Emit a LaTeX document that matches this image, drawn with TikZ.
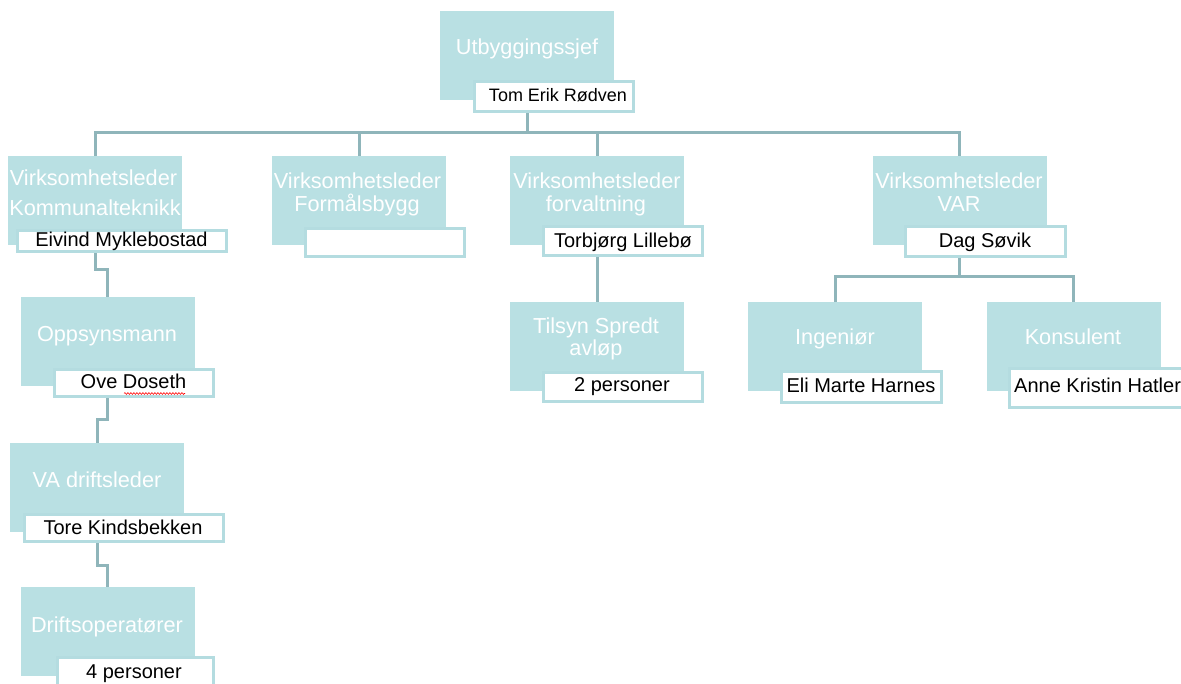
\documentclass[tikz,border=0pt]{standalone}
\usepackage{fontspec}
\setmainfont{Liberation Sans}
\usetikzlibrary{backgrounds,decorations.pathmorphing}
\definecolor{boxfill}{RGB}{185,224,227}
\definecolor{conncol}{RGB}{143,181,186}
\definecolor{nameline}{RGB}{180,220,224}
\tikzset{
  rolebox/.style={fill=boxfill, draw=none, inner sep=0pt, outer sep=0pt, minimum width=174pt, minimum height=89pt},
  namebox/.style={fill=white, draw=nameline, line width=3pt, inner sep=0pt, outer sep=0pt},
  conn/.style={draw=conncol, line width=3pt},
  titletxt/.style={text=white, font=\fontsize{21.7}{26}\selectfont, anchor=base, inner sep=0pt},
  nametxt/.style={text=black, font=\fontsize{20}{24}\selectfont, anchor=base, inner sep=0pt},
}
\begin{document}
\begin{tikzpicture}[x=1pt,y=-1pt]
\useasboundingbox (0,0) rectangle (1181,684);
\clip (0,0) rectangle (1181,684);
\coordinate (bus) at (0,133);
% role boxes
\node[rolebox] (r0) at (527,56) {};
\node[rolebox] (rk) at (95,200.5) {};
\node[rolebox] (rf) at (359,200.5) {};
\node[rolebox] (rfv) at (597,200.5) {};
\node[rolebox] (rvar) at (959.5,200.5) {};
\node[rolebox] (rti) at (597,346.5) {};
\node[rolebox] (ring) at (835,346.5) {};
\node[rolebox] (rkon) at (1073.5,346.5) {};
\node[rolebox] (ro) at (107.5,341.5) {};
\node[rolebox] (rva) at (97,487.5) {};
\node[rolebox] (rd) at (107.5,631.5) {};
% name boxes
\node[namebox, minimum width=159pt, minimum height=30pt] (n0) at (554,96.5) {};
\node[namebox, minimum width=209pt, minimum height=21pt] (nk) at (122,241) {};
\node[namebox, minimum width=159pt, minimum height=28pt] (nf) at (385,242.5) {};
\node[namebox, minimum width=159pt, minimum height=29pt] (nfv) at (623,241) {};
\node[namebox, minimum width=160pt, minimum height=30pt] (nvar) at (985.5,241.5) {};
\node[namebox, minimum width=159pt, minimum height=29pt] (nti) at (623,387) {};
\node[namebox, minimum width=160pt, minimum height=31pt] (ning) at (861.5,387.5) {};
\node[namebox, minimum width=184pt, minimum height=39pt] (nkon) at (1101.5,388) {};
\node[namebox, minimum width=159pt, minimum height=27pt] (no) at (134,383) {};
\node[namebox, minimum width=199pt, minimum height=27pt] (nva) at (124,528) {};
\node[namebox, minimum width=156pt, minimum height=35pt] (nd) at (135.5,675) {};
% titles
\node[titletxt] (t0) at (527,55) {Utbyggingssjef};
\node[titletxt] (tk1) at (93.5,186) {Virksomhetsleder};
\node[titletxt] (tk2) at (95,216) {Kommunalteknikk};
\node[titletxt] (tf1) at (357.5,189) {Virksomhetsleder};
\node[titletxt] (tf2) at (357,212) {Formålsbygg};
\node[titletxt] (tfv1) at (597,189) {Virksomhetsleder};
\node[titletxt] (tfv2) at (596,212) {forvaltning};
\node[titletxt] (tvar1) at (959,189) {Virksomhetsleder};
\node[titletxt] (tvar2) at (959,212) {VAR};
\node[titletxt] (tti1) at (596,334) {Tilsyn Spredt};
\node[titletxt] (tti2) at (596,356) {avløp};
\node[titletxt] (ting) at (835,345) {Ingeniør};
\node[titletxt] (tkon) at (1073,345) {Konsulent};
\node[titletxt] (to) at (107,342) {Oppsynsmann};
\node[titletxt] (tva) at (97,487) {VA driftsleder};
\node[titletxt] (td) at (107,632) {Driftsoperatører};
% names
\node[nametxt, font=\fontsize{18}{22}\selectfont] (m0) at (558,102) {Tom Erik Rødven};
\node[nametxt] (mk) at (121.5,247) {Eivind Myklebostad};
\node[nametxt] (mfv) at (623,248) {Torbjørg Lillebø};
\node[nametxt] (mvar) at (985,248) {Dag Søvik};
\node[nametxt] (mti) at (622,392) {2 personer};
\node[nametxt] (ming) at (861,393) {Eli Marte Harnes};
\node[nametxt, anchor=base west] (mkon) at (1014,393) {Anne Kristin Hatler};
\node[nametxt] (mo) at (133.5,389) {Ove Doseth};
\node[nametxt] (mva) at (123,534) {Tore Kindsbekken};
\node[nametxt] (md) at (134,678) {4 personer};
\draw[red, line width=0.6pt, decorate, decoration={snake, amplitude=0.9pt, segment length=3pt}] (124,393.5) -- (185,393.5);
% connectors
\begin{scope}[on background layer]
\draw[conn] (r0.south) -- (r0.south |- bus);
\draw[conn] (rk.north) |- (rvar.north |- bus) -- (rvar.north);
\draw[conn] (rf.north) -- (rf.north |- bus);
\draw[conn] (rfv.north) -- (rfv.north |- bus);
\draw[conn] (rk.south) -- ++(0,25) -| (ro.north);
\draw[conn] (ro.south) -- ++(0,34) -| (rva.north);
\draw[conn] (rva.south) -- ++(0,33) -| (rd.north);
\draw[conn] (rfv.south) -- (rti.north);
\draw[conn] (rvar.south) -- ++(0,32) coordinate (vb);
\draw[conn] (ring.north) |- (vb) -| (rkon.north);
\end{scope}
\end{tikzpicture}
\end{document}
